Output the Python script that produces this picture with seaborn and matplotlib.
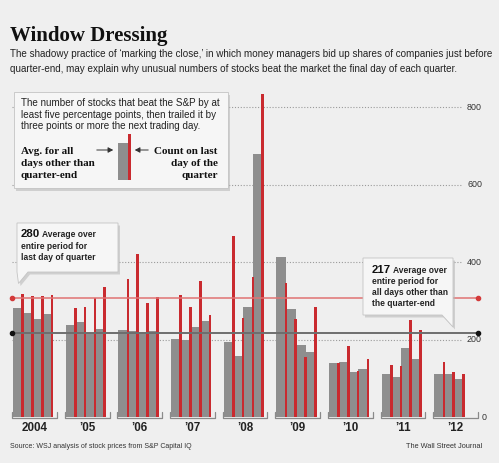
import pandas as pd
import matplotlib.pyplot as plt
import seaborn as sns
from matplotlib.patches import Polygon, Rectangle, FancyArrowPatch

# === Data ===
years = ["2004", "\u201905", "\u201906", "\u201907", "\u201908",
         "\u201909", "\u201910", "\u201911", "\u201912"]
quarters_per_year = [4, 4, 4, 4, 4, 4, 4, 4, 3]

# average for all days other than quarter-end (gray)
other_days = [281, 268, 253, 266,
              237, 245, 217, 229,
              225, 223, 219, 222,
              203, 199, 233, 249,
              195, 158, 285, 679,
              413, 280, 187, 169,
              141, 144, 118, 124,
              113, 105, 178, 150,
              111, 113, 99]
# count on last day of the quarter (red)
last_day = [318, 314, 314, 315,
            283, 285, 308, 337,
            358, 421, 296, 310,
            315, 284, 351, 265,
            468, 257, 362, 834,
            347, 253, 155, 285,
            139, 183, 119, 150,
            134, 133, 250, 225,
            144, 117, 113]

avg_last_label = 280      # printed value
avg_last_line = 307       # where the line is drawn in the graphic
avg_other = 217
y_ticks = [0, 200, 400, 600, 800]

# === Layout constants ===
W, H = 499, 463
BG = "#efefef"
GRAY = "#8e8e8e"
RED = "#c92a2f"
PITCH = 5.4          # slots per year group (4 quarters + gap)
PX = 9.75            # pixels per slot
X0 = 13              # pixel of slot 0
BASE = 417.3         # pixel of value 0
PPU = 0.3875         # pixels per count
SERIF = ["Liberation Serif", "DejaVu Serif"]

rows = []
i = 0
for g, (yr, n) in enumerate(zip(years, quarters_per_year)):
    for q in range(n):
        rows.append(dict(year=yr, quarter=q + 1,
                         slot=g * PITCH + q + 0.5,
                         other=other_days[i], last=last_day[i]))
        i += 1
df = pd.DataFrame(rows)
df["slot_last"] = df["slot"] + 0.5

sns.set_theme(style="white")
plt.rcParams["font.family"] = ["Liberation Sans", "DejaVu Sans"]

fig = plt.figure(figsize=(W / 100, H / 100), dpi=100, facecolor=BG)
renderer = fig.canvas.get_renderer()


def P(x, y):
    return (x / W, 1 - y / H)


def after(t, gap=2.5):
    # pixel x just right of a text already placed
    return t.get_window_extent(renderer).x1 + gap


top_px = 88
ax = fig.add_axes([12 / W, 1 - BASE / H, (478 - 12) / W, (BASE - top_px) / H])
ax.set_facecolor(BG)

sns.barplot(data=df, x="slot", y="other", native_scale=True, orient="x",
            width=1.0, color=GRAY, saturation=1, linewidth=0,
            errorbar=None, ax=ax, zorder=2)
sns.barplot(data=df, x="slot_last", y="last", native_scale=True, orient="x",
            width=0.27, color=RED, saturation=1, linewidth=0,
            errorbar=None, ax=ax, zorder=3)

xl = ((12 - X0) / PX, (478 - X0) / PX)
ax.set_xlim(*xl)
ax.set_ylim(0, (BASE - top_px) / PPU)
ax.set(xlabel="", ylabel="", xticks=[], yticks=[])
sns.despine(ax=ax, left=True, bottom=True)

# dotted gridlines and right-hand value labels
grid_end = (462 - X0) / PX
ax.hlines(y_ticks[1:], xl[0], grid_end, colors="#9a9a9a",
          linestyles=(0, (1, 1.6)), lw=0.8, zorder=1)
for v in y_ticks:
    xpix = 482 if v == 0 else 467
    ax.text((xpix - X0) / PX, v, str(v), ha="left", va="center",
            fontsize=6.4, color="#333", clip_on=False)

# average lines
ax.plot(xl, [avg_last_line] * 2, color="#e07373", lw=1.1, zorder=4,
        clip_on=False)
ax.scatter(xl, [avg_last_line] * 2, s=9, color="#d33a3a", zorder=5,
           clip_on=False)
ax.plot(xl, [avg_other] * 2, color="#6e6e6e", lw=1.4, zorder=4, clip_on=False)
ax.scatter(xl, [avg_other] * 2, s=9, color="#111", zorder=5, clip_on=False)

# year brackets and labels
tick_h = 5 / PPU
for g, yr in enumerate(years):
    a = g * PITCH - 0.1
    b = g * PITCH + 4.5
    ax.plot([a, a, b, b], [tick_h, -1, -1, tick_h], color="#8a8a8a", lw=0.9,
            clip_on=False, zorder=6)
    fig.text(*P(X0 + (g * PITCH + 2.2) * PX, 431), yr, ha="center",
             va="baseline", fontsize=8.4, fontweight="bold", color="#222")

# title and subtitle
fig.text(*P(10, 40.5), "Window Dressing", fontsize=15, fontweight="bold",
         family=SERIF, va="baseline", color="#111")
sub = ["The shadowy practice of \u2018marking the close,\u2019 in which money "
       "managers bid up shares of companies just before",
       "quarter-end, may explain why unusual numbers of stocks beat the "
       "market the final day of each quarter."]
for k, line in enumerate(sub):
    fig.text(*P(10, 57.3 + 14.4 * k), line, fontsize=7.1, va="baseline",
             color="#222")


def box(pts, face="#f6f6f6"):
    sh = [(x + 2, y + 2.5) for x, y in pts]
    fig.patches.append(Polygon([P(*p) for p in sh], closed=True,
                               transform=fig.transFigure, fc="#b5b5b5",
                               ec="none", alpha=0.55, zorder=7))
    fig.patches.append(Polygon([P(*p) for p in pts], closed=True,
                               transform=fig.transFigure, fc=face,
                               ec="#c4c4c4", lw=0.6, zorder=8))


# legend box
box([(14, 92), (228, 92), (228, 188), (14, 188)])
leg = ["The number of stocks that beat the S&P by at",
       "least five percentage points, then trailed it by",
       "three points or more the next trading day."]
for k, line in enumerate(leg):
    fig.text(*P(20.7, 106 + 11.7 * k), line, fontsize=7.1, va="baseline",
             color="#222", zorder=9)
left_lab = ["Avg. for all", "days other than", "quarter-end"]
right_lab = ["Count on last", "day of the", "quarter"]
for k in range(3):
    fig.text(*P(20.7, 154 + 11.8 * k), left_lab[k], fontsize=8.0,
             fontweight="bold", family=SERIF, va="baseline", color="#111",
             zorder=9)
    fig.text(*P(217.5, 154 + 11.8 * k), right_lab[k], fontsize=8.0,
             fontweight="bold", family=SERIF, va="baseline", ha="right",
             color="#111", zorder=9)
x_a, y_a = P(118.3, 180)
fig.patches.append(Rectangle((x_a, y_a), 10 / W, 37 / H,
                             transform=fig.transFigure, fc=GRAY, ec="none",
                             zorder=9))
x_b, y_b = P(127.7, 180)
fig.patches.append(Rectangle((x_b, y_b), 3 / W, 46 / H,
                             transform=fig.transFigure, fc=RED, ec="none",
                             zorder=10))
for s, e in [((94, 150), (116, 150)), ((151, 150), (132, 150))]:
    fig.patches.append(FancyArrowPatch(P(*s), P(*e), transform=fig.transFigure,
                                       arrowstyle="-|>,head_length=3,head_width=1.6",
                                       color="#333", lw=0.7, zorder=9))

# callout for the last-day average
box([(17, 223), (118, 223), (118, 272), (28, 272), (18.5, 283.5), (17, 272)])
t = fig.text(*P(20.7, 237.5), str(avg_last_label), fontsize=8.2,
             fontweight="bold", va="baseline", color="#111", zorder=9)
c1 = ["Average over", "entire period for", "last day of quarter"]
fig.text(after(t) / W, 1 - 237.5 / H, c1[0], fontsize=6.15, fontweight="bold",
         va="baseline", color="#222", zorder=9)
for k in (1, 2):
    fig.text(*P(20.7, 237.5 + 11.4 * k), c1[k], fontsize=6.15,
             fontweight="bold", va="baseline", color="#222", zorder=9)

# callout for the other-days average
box([(363, 258), (453, 258), (453, 327), (442, 315), (363, 315)])
t = fig.text(*P(371.5, 272.7), str(avg_other), fontsize=8.2,
             fontweight="bold", va="baseline", color="#111", zorder=9)
c2 = ["Average over", "entire period for", "all days other than",
      "the quarter-end"]
fig.text(after(t) / W, 1 - 272.7 / H, c2[0], fontsize=6.15, fontweight="bold",
         va="baseline", color="#222", zorder=9)
for k in (1, 2, 3):
    fig.text(*P(371.5, 272.7 + 11.1 * k), c2[k], fontsize=6.15,
             fontweight="bold", va="baseline", color="#222", zorder=9)

# footer
fig.text(*P(10.5, 447.5), "Source: WSJ analysis of stock prices from S&P Capital IQ",
         fontsize=5.05, va="baseline", color="#333")
fig.text(*P(482, 447.5), "The Wall Street Journal", fontsize=5.3,
         va="baseline", ha="right", color="#333")

fig.savefig("out.png", dpi=100, facecolor=BG)
